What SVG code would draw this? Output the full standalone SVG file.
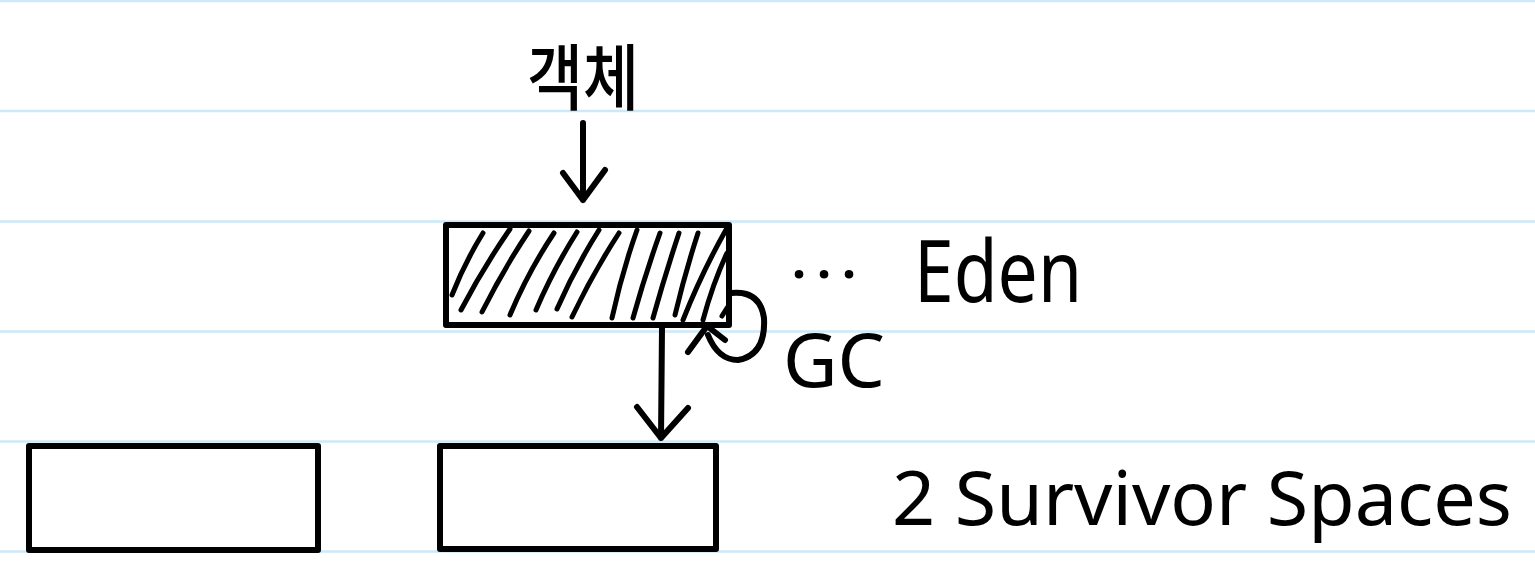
<svg xmlns="http://www.w3.org/2000/svg" width="1535" height="580" viewBox="0 0 1535 580">
<style>
.rule{stroke:#cbe9f9;stroke-width:2.5}
.box{fill:none;stroke:#000;stroke-width:6;stroke-linejoin:round}
.ink{fill:none;stroke:#000;stroke-width:6;stroke-linecap:round;stroke-linejoin:round}
.hatch{fill:none;stroke:#000;stroke-width:5;stroke-linecap:round}
.t{font-family:"Noto Sans","DejaVu Sans",sans-serif;fill:#000}
.k{font-family:"Noto Sans CJK KR","Noto Sans",sans-serif;fill:#000}
</style>
<rect width="1535" height="580" fill="#fff"/>
<g id="rules">
<line class="rule" x1="0" y1="1" x2="1535" y2="1"/>
<line class="rule" x1="0" y1="111" x2="1535" y2="111"/>
<line class="rule" x1="0" y1="221.5" x2="1535" y2="221.5"/>
<line class="rule" x1="0" y1="331.5" x2="1535" y2="331.5"/>
<line class="rule" x1="0" y1="441.5" x2="1535" y2="441.5"/>
<line class="rule" x1="0" y1="551.5" x2="1535" y2="551.5"/>
</g>
<g id="object-label">
<text class="k" x="583" y="104" font-size="72" font-weight="500" text-anchor="middle" textLength="112" lengthAdjust="spacingAndGlyphs">객체</text>
</g>
<g id="eden">
<rect class="box" x="446" y="225" width="283" height="100"/>
<g class="hatch">
<path d="M452,295 Q465,262 483,233"/>
<path d="M461,310 Q483,268 510,229"/>
<path d="M482,312 Q503,270 529,231"/>
<path d="M510,315 Q528,272 554,233"/>
<path d="M536,310 Q553,270 577,232"/>
<path d="M557,309 Q575,268 599,230"/>
<path d="M572,317 Q593,273 619,233"/>
<path d="M612,318 Q622,272 637,230"/>
<path d="M633,318 Q645,275 660,233"/>
<path d="M653,318 Q665,275 679,233"/>
<path d="M675,315 Q685,273 698,233"/>
<path d="M683,320 Q702,272 727,228"/>
<path d="M703,320 Q713,283 727,253"/>
<path d="M722,316 L727,308"/>
</g>
<text class="t" x="792" y="278" font-size="50" font-weight="bold" textLength="64" lengthAdjust="spacing">...</text>
<text class="t" x="914" y="302" font-size="86" textLength="168" lengthAdjust="spacingAndGlyphs">Eden</text>
</g>
<g id="survivor1">
<rect class="box" x="29" y="446" width="289" height="104"/>
</g>
<g id="survivor2">
<rect class="box" x="440" y="446" width="276" height="103"/>
</g>
<g id="survivor-label">
<text class="t" x="892" y="525" font-size="74" textLength="620" lengthAdjust="spacingAndGlyphs">2 Survivor Spaces</text>
</g>
<g id="connectors">
<path class="ink" d="M583,123 L583,200 M563,173 L583,200 L605,170"/>
<path class="ink" d="M662,328 L661,438 M637,407 L661,438 L688,408"/>
<path class="ink" d="M731,293 Q760,290 764,318 Q766,355 738,360 Q718,360 708,335 M688,352 L707,326 L725,340"/>
<text class="t" x="783" y="387" font-size="74" textLength="102" lengthAdjust="spacingAndGlyphs">GC</text>
</g>
</svg>
